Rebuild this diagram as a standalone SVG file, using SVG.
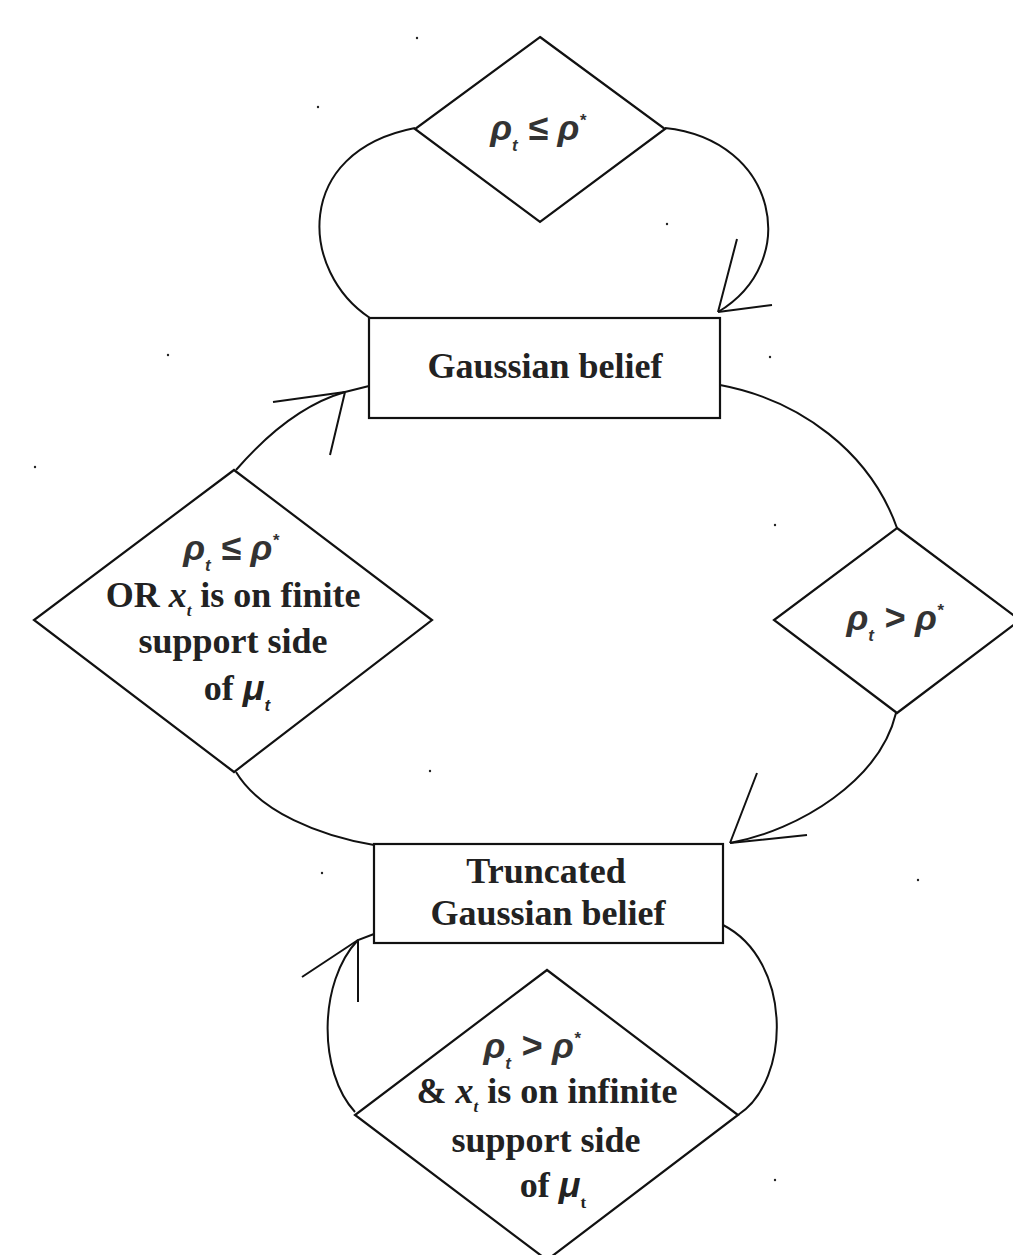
<svg xmlns="http://www.w3.org/2000/svg" width="1013" height="1255" viewBox="0 0 1013 1255">
<style>
.shape{fill:#fff;stroke:#111;stroke-width:2.2}
.conn{fill:none;stroke:#111;stroke-width:2}
.t{font-family:"Liberation Serif","Times New Roman",serif;font-weight:bold;font-size:36px;fill:#222;text-anchor:middle}
.m{font-family:"Liberation Sans",Arial,sans-serif;font-weight:bold;font-style:italic;font-size:36px;fill:#333;text-anchor:middle}
.mi{font-family:"Liberation Sans",Arial,sans-serif;font-style:italic;font-weight:bold}
.xi{font-style:italic}
.sub{font-size:17px}
.sup{font-size:17px}
.speck{fill:#222}
</style>
<rect width="1013" height="1255" fill="#fff"/>
<g id="connectors">
<path class="conn" d="M370 318 C300 272 292 152 415 128"/>
<path class="conn" d="M665 128 C778 140 802 262 718 312"/>
<path class="conn" d="M718 312 L737 239 M718 312 L772 305"/>
<path class="conn" d="M720 385 C800 400 870 452 897 528"/>
<path class="conn" d="M896 713 C880 780 800 830 730 843"/>
<path class="conn" d="M730 843 L757 773 M730 843 L807 835"/>
<path class="conn" d="M374 845 C320 836 260 812 236 772"/>
<path class="conn" d="M236 470 C262 440 300 405 345 392 L369 386"/>
<path class="conn" d="M345 392 L273 402 M345 392 L330 455"/>
<path class="conn" d="M355 1112 C318 1072 318 982 358 940 L374 934"/>
<path class="conn" d="M358 940 L302 977 M358 940 L358 1002"/>
<path class="conn" d="M723 925 C792 960 792 1080 738 1115"/>
</g>
<g id="top-decision">
<polygon class="shape" points="540,37 665,129 540,222 415,129"/>
<text class="m" x="538" y="140">ρ<tspan class="sub" dy="11">t</tspan><tspan dy="-11"> ≤ ρ</tspan><tspan class="sup" dy="-14">*</tspan></text>
</g>
<g id="gaussian-belief">
<rect class="shape" x="369" y="318" width="351" height="100"/>
<text class="t" x="545" y="378">Gaussian belief</text>
</g>
<g id="right-decision">
<polygon class="shape" points="897,528 1020,620 897,713 774,620"/>
<text class="m" x="895" y="630">ρ<tspan class="sub" dy="11">t</tspan><tspan dy="-11"> &gt; ρ</tspan><tspan class="sup" dy="-14">*</tspan></text>
</g>
<g id="left-decision">
<polygon class="shape" points="234,470 432,620 234,772 34,620"/>
<text class="m" x="231" y="560">ρ<tspan class="sub" dy="11">t</tspan><tspan dy="-11"> ≤ ρ</tspan><tspan class="sup" dy="-14">*</tspan></text>
<text class="t" x="233" y="607">OR <tspan class="xi">x</tspan><tspan class="sub xi" dy="9">t</tspan><tspan dy="-9"> is on finite</tspan></text>
<text class="t" x="233" y="653">support side</text>
<text class="t" x="237" y="700">of <tspan class="mi">μ</tspan><tspan class="sub mi" dy="11">t</tspan></text>
</g>
<g id="truncated-belief">
<rect class="shape" x="374" y="844" width="349" height="99"/>
<text class="t" x="546" y="883">Truncated</text>
<text class="t" x="548" y="925">Gaussian belief</text>
</g>
<g id="bottom-decision">
<polygon class="shape" points="547,970 738,1115 547,1260 355,1115"/>
<text class="m" x="532" y="1058">ρ<tspan class="sub" dy="11">t</tspan><tspan dy="-11"> &gt; ρ</tspan><tspan class="sup" dy="-14">*</tspan></text>
<text class="t" x="547" y="1103">&amp; <tspan class="xi">x</tspan><tspan class="sub xi" dy="9">t</tspan><tspan dy="-9"> is on infinite</tspan></text>
<text class="t" x="546" y="1152">support side</text>
<text class="t" x="553" y="1197">of <tspan class="mi">μ</tspan><tspan class="sub" dy="11">t</tspan></text>
</g>
<g id="specks">
<circle class="speck" cx="417" cy="38" r="1.2"/>
<circle class="speck" cx="318" cy="107" r="1.2"/>
<circle class="speck" cx="667" cy="224" r="1.2"/>
<circle class="speck" cx="168" cy="355" r="1.2"/>
<circle class="speck" cx="770" cy="357" r="1.2"/>
<circle class="speck" cx="35" cy="467" r="1.2"/>
<circle class="speck" cx="775" cy="525" r="1.2"/>
<circle class="speck" cx="430" cy="771" r="1.2"/>
<circle class="speck" cx="322" cy="873" r="1.2"/>
<circle class="speck" cx="918" cy="880" r="1.2"/>
<circle class="speck" cx="775" cy="1180" r="1.2"/>
</g>
</svg>
